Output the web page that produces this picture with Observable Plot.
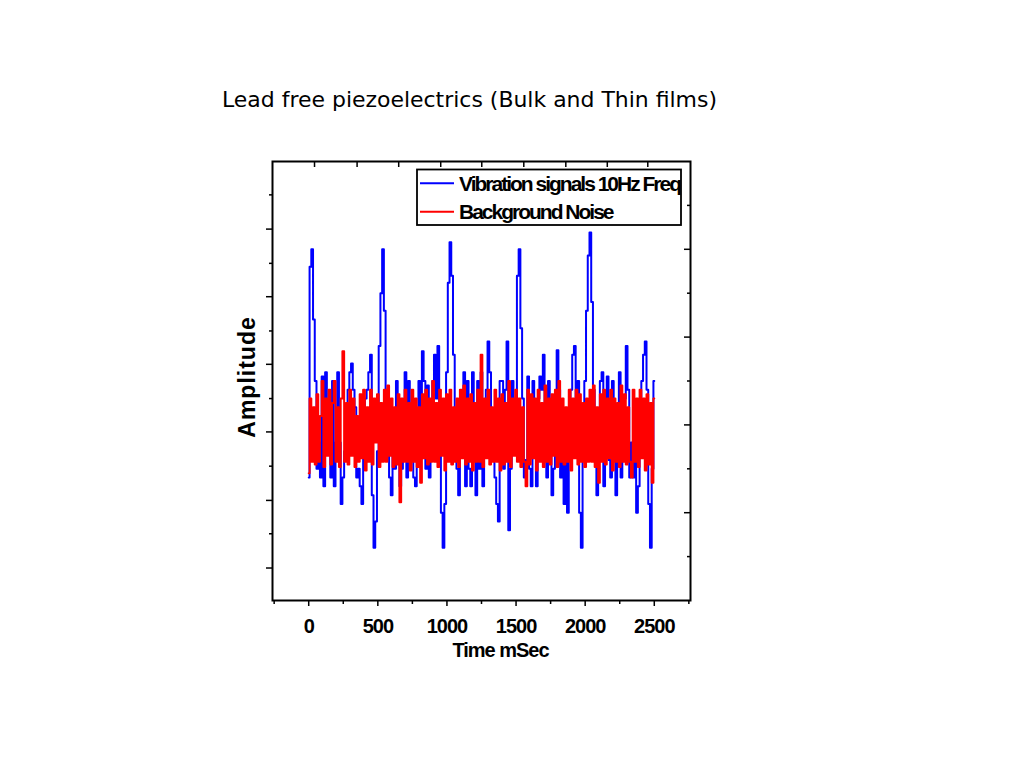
<!DOCTYPE html>
<html><head><meta charset="utf-8">
<script src="https://cdn.jsdelivr.net/npm/d3@7"></script>
<script src="https://cdn.jsdelivr.net/npm/@observablehq/plot@0.6"></script>
<style>
html,body{margin:0;padding:0;background:#fff;}
#wrap{position:relative;width:1024px;height:768px;overflow:hidden;background:#fff;}
g[aria-label="x-axis tick label"] text{letter-spacing:-1px;}
</style></head><body><div id="wrap"></div>
<script>
// ---- data ----
const sampleStepMs = 12.5;
const vibration = [
 -0.6, 1.8, 2.0, 1.2, 0.5, -0.5, -0.2, -0.6, 0.55, -0.7,
 0.6, -0.3, 0.2, -0.6, 0.5, -0.7, -0.2, 0.6, -0.2, -0.9,
 -0.6, -0.3, 0.1, 0.4, 0.6, 0.7, 0.4, 0.2, -0.6, -0.5,
 -0.7, -0.9, -0.3, 0.3, 0.4, 0.6, 0.8, -0.8, -1.4, -1.1,
 -0.3, 0.9, 1.5, 2.0, 1.3, 0.4, -0.2, -0.6, -0.8, -0.3,
 -0.5, 0.5, 0.3, -0.7, -0.5, -0.2, 0.6, -0.6, 0.5, 0.2,
 -0.3, -0.6, -0.7, -0.4, 0.5, 0.2, 0.84, 0.5, -0.5, 0.45,
 -0.6, -0.3, 0.5, 0.8, 0.3, 0.9, -0.3, -1.0, -1.4, -0.9,
 0.6, 1.62, 2.08, 1.7, 0.8, 0.0, -0.5, -0.8, -0.3, 0.3,
 0.6, -0.7, 0.5, -0.5, -0.7, 0.6, -0.4, -0.8, 0.5, -0.5,
 0.6, -0.7, -0.3, 0.4, 0.95, 0.6, 0.0, -0.3, -0.6, -0.9,
 -1.1, 0.5, 0.5, -0.5, 0.4, 0.95, -1.2, -0.5, 0.5, 0.0,
 0.3, 1.7, 2.0, 1.1, 0.3, -0.6, -0.4, 0.55, -0.5, -0.7,
 0.5, -0.3, -0.7, 0.3, 0.55, 0.4, 0.8, -0.2, -0.6, 0.5,
 0.1, -0.8, -0.5, 0.2, 0.85, 0.4, -0.6, -0.3, -0.9, -0.4,
 -1.0, -0.2, 0.4, 0.8, 0.9, 0.3, 0.5, -1.0, -1.4, -0.3,
 0.5, 1.3, 1.93, 2.19, 1.4, 0.4, -0.1, -0.8, -0.4, 0.5,
 0.6, -0.7, 0.3, 0.55, -0.4, -0.6, 0.5, 0.2, -0.8, -0.2,
 0.6, -0.6, -0.2, 0.3, 0.9, 0.4, -0.6, -0.2, -0.6, -0.4,
 -1.0, -0.7, -0.3, 0.5, 0.8, 0.95, 0.4, -0.9, -1.4, -0.5,
 0.5
];
const noise = [
 -0.55, 0.3, -0.42, 0.2, -0.45, 0.35, -0.42, 0.1, 0.5, -0.48,
 0.3, -0.35, 0.4, -0.45, 0.25, 0.5, -0.42, 0.2, -0.48, 0.3,
 0.84, -0.42, 0.25, -0.45, 0.4, -0.35, 0.3, -0.48, 0.1, -0.42,
 0.35, -0.38, 0.4, -0.52, 0.2, -0.42, 0.4, -0.45, 0.3, -0.2,
 0.35, -0.48, 0.25, -0.42, 0.4, -0.42, 0.45, -0.35, 0.3, -0.48,
 0.2, -0.45, 0.35, -0.88, 0.3, -0.42, 0.4, -0.42, 0.25, -0.52,
 0.4, -0.42, 0.3, -0.48, 0.2, -0.66, 0.35, -0.38, 0.4, -0.45,
 0.3, -0.42, 0.5, -0.42, 0.25, -0.48, 0.4, -0.35, 0.3, -0.52,
 0.35, -0.42, 0.4, -0.45, 0.2, -0.42, 0.3, -0.48, 0.4, -0.38,
 0.45, -0.45, 0.3, -0.42, 0.35, -0.52, 0.25, -0.42, 0.4, -0.42,
 0.8, -0.48, 0.3, -0.38, 0.4, -0.45, 0.2, -0.42, 0.4, -0.42,
 0.3, -0.52, 0.35, -0.45, 0.25, -0.42, 0.5, -0.48, 0.3, -0.35,
 0.4, -0.42, 0.3, -0.48, 0.2, -0.42, -0.7, 0.4, -0.45, 0.35,
 -0.38, 0.3, -0.52, 0.4, -0.42, 0.25, -0.48, 0.45, -0.42, 0.3,
 -0.45, 0.35, -0.35, 0.4, -0.48, 0.5, -0.42, 0.3, -0.45, 0.2,
 -0.42, 0.4, -0.52, 0.3, -0.38, 0.4, -0.45, 0.35, -0.42, 0.25,
 -0.48, 0.3, -0.42, 0.4, -0.42, 0.45, -0.48, 0.2, -0.66, 0.35,
 -0.42, 0.4, -0.45, 0.3, -0.38, 0.4, -0.52, 0.3, -0.42, 0.25,
 -0.48, 0.45, -0.42, 0.35, -0.45, 0.2, -0.42, -0.6, 0.4, -0.42,
 0.3, -0.48, 0.4, -0.38, 0.3, -0.52, 0.35, -0.45, 0.25, -0.66,
 0.3
];
const seriesNames = ["Vibration signals 10Hz Freq", "Background Noise"];
const seriesColors = ["#0000ff", "#ff0000"];
const xMajorTicks = [0, 500, 1000, 1500, 2000, 2500];
const xMinorTicks = [-250, 250, 750, 1250, 1750, 2250, 2750];
const topTicks = [42, 350, 651, 955, 1252, 1556, 1860, 2160, 2453];
const leftMajorTicks = [2.23, 1.46, 0.69, -0.08, -0.86, -1.63];
const leftMinorTicks = [2.62, 1.84, 1.07, 0.30, -0.47, -1.24];
const rightMajorTicks = [-1, 0, 1, 2];
const rightMinorTicks = [-1.5, -0.5, 0.5, 1.5, 2.5];
const titleText = "Lead free piezoelectrics (Bulk and Thin films)";
const xLabel = "Time mSec";
const yLabel = "Amplitude";

// ---- build ----
const rows = (vals, name) => vals.map((v, i) => ({t: i * sampleStepMs, v, series: name}));
const blueRows = rows(vibration, seriesNames[0]);
const redRows = rows(noise, seriesNames[1]);

const W = 1024, H = 768, mL = 272, mR = 334, mT = 161, mB = 168;
const innerW = W - mL - mR, innerH = H - mT - mB;
const FF = "'Liberation Sans', Arial, sans-serif";

const chart = Plot.plot({
  width: W, height: H,
  marginLeft: mL, marginRight: mR, marginTop: mT, marginBottom: mB,
  style: {background: "white", fontFamily: FF, overflow: "visible"},
  x: {domain: [-262, 2762]},
  y: {domain: [-2, 3]},
  marks: [
    Plot.line(blueRows, {x: "t", y: "v", stroke: seriesColors[0], strokeWidth: 2, curve: "step"}),
    Plot.line(redRows, {x: "t", y: "v", stroke: seriesColors[1], strokeWidth: 2, curve: "step"}),
    Plot.axisX({anchor: "bottom", ticks: xMinorTicks, tickSize: 4, tickFormat: () => "", label: null, strokeWidth: 1.5}),
    Plot.axisX({anchor: "bottom", ticks: xMajorTicks, tickSize: 6, tickPadding: 12, label: null,
      tickFormat: d => String(d), strokeWidth: 1.5, fontSize: 20, fontWeight: "bold", fill: "black"}),
    Plot.tickX(topTicks, {x: d => d, insetBottom: innerH - 6, stroke: "black", strokeWidth: 1.5}),
    Plot.axisY({anchor: "left", ticks: leftMajorTicks, tickSize: 6, tickFormat: () => "", label: null, strokeWidth: 1.5}),
    Plot.axisY({anchor: "left", ticks: leftMinorTicks, tickSize: 3, tickFormat: () => "", label: null, strokeWidth: 1.5}),
    Plot.tickY(rightMajorTicks, {y: d => d, insetLeft: innerW - 6, stroke: "black", strokeWidth: 1.5}),
    Plot.tickY(rightMinorTicks, {y: d => d, insetLeft: innerW - 3, stroke: "black", strokeWidth: 1.5}),
    Plot.frame({stroke: "black", strokeWidth: 2}),
    Plot.text([xLabel], {text: d => d, frameAnchor: "bottom", textAnchor: "middle", lineAnchor: "middle",
      dx: 19, dy: 50, fontSize: 20, fontWeight: "bold", fill: "black"}),
    Plot.text([yLabel], {text: d => d, frameAnchor: "left", textAnchor: "middle", lineAnchor: "middle",
      dx: -25, dy: -4, rotate: -90, fontSize: 23, fontWeight: "bold", fill: "black"})
  ]
});

document.getElementById("wrap").appendChild(chart);
const svg = d3.select(chart);

svg.selectAll("text").filter(function(){ return this.textContent === xLabel; }).style("letter-spacing", "-1px");
svg.selectAll("text").filter(function(){ return this.textContent === yLabel; }).style("letter-spacing", "1px");

// title
svg.append("text")
  .attr("x", 222).attr("y", 107)
  .attr("text-anchor", "start")
  .attr("textLength", 495).attr("lengthAdjust", "spacingAndGlyphs")
  .style("font-family", "'DejaVu Sans', Verdana, sans-serif")
  .style("font-size", "22px").attr("fill", "black")
  .text(titleText);

// legend
const lg = svg.append("g");
lg.append("clipPath").attr("id", "lgclip").append("rect")
  .attr("x", 417).attr("y", 169.5).attr("width", 264).attr("height", 55.5);
lg.append("rect").attr("x", 417).attr("y", 169.5).attr("width", 264).attr("height", 55.5)
  .attr("fill", "white").attr("stroke", "black").attr("stroke-width", 1.8);
const legendRows = [{y: 183.3, base: 191}, {y: 211.7, base: 219}];
seriesNames.forEach((name, i) => {
  lg.append("line").attr("x1", 420).attr("x2", 454).attr("y1", legendRows[i].y).attr("y2", legendRows[i].y)
    .attr("stroke", seriesColors[i]).attr("stroke-width", 2);
  lg.append("text").attr("x", 459).attr("y", legendRows[i].base)
    .attr("text-anchor", "start")
    .attr("clip-path", "url(#lgclip)")
    .style("font-family", FF).style("font-size", "21px").style("font-weight", "bold")
    .style("letter-spacing", "-2px").attr("fill", "black")
    .text(name);
});
</script></body></html>
